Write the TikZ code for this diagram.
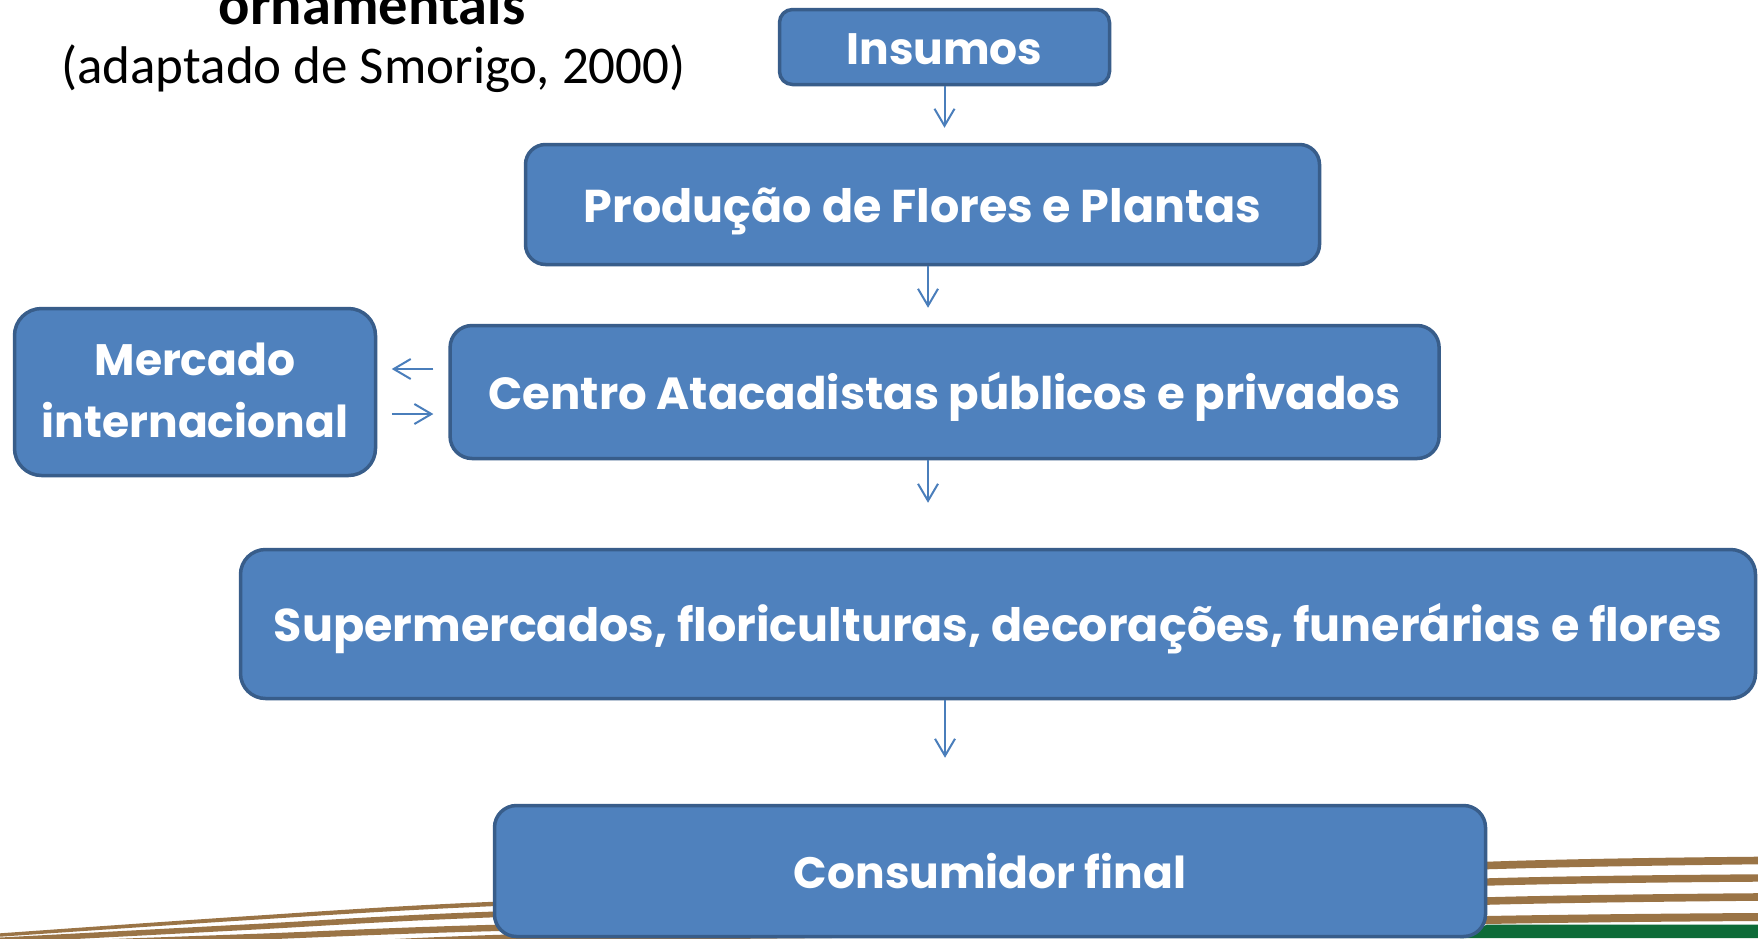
\documentclass[tikz,border=0pt]{standalone}
\usepackage{fontspec}
\setmainfont{Carlito}
\newfontfamily\boxfont{Poppins}
\usetikzlibrary{arrows.meta}
\definecolor{boxfill}{HTML}{4F81BD}
\definecolor{boxline}{HTML}{385D8A}
\definecolor{arrowc}{HTML}{4A7EBB}
\definecolor{stripe}{HTML}{9A7446}
\definecolor{band}{HTML}{0D6B38}
\begin{document}
\begin{tikzpicture}[x=1pt,y=-1pt,
  flowbox/.style={draw=boxline, fill=boxfill, line width=3.5pt, text=white,
    font=\boxfont\bfseries\fontsize{46}{62}\selectfont,
    text height=35pt, text depth=0pt, inner sep=0pt, align=center},
  smalltext/.style={font=\boxfont\bfseries\fontsize{44}{62}\selectfont},
  flowarrow/.style={draw=arrowc, line width=2pt, -{Straight Barb[length=17pt,width=20pt]}},
  stripefill/.style={fill=stripe, draw=none}
]
\useasboundingbox (0,0) rectangle (1758,938);
\clip (0,0) rectangle (1758,938);
\fill[white] (0,0) rectangle (1758,938);

% decorative stripes
\fill[band] (1460,938) -- (1487,924.5) -- (1758,924.5) -- (1758,938) -- cycle;
\fill[stripefill] plot[smooth] coordinates {(0,933.3) (250,916) (492,901.8) (990,884) (1487,861.7) (1758,856.7)}
  -- plot[smooth] coordinates {(1758,864.3) (1487,869.3) (990,888) (492,906.2) (250,920) (0,936.7)} -- cycle;
\fill[stripefill] plot[smooth] coordinates {(0,937.5) (250,924.2) (492,911.6) (990,897) (1487,878.3) (1758,874.3)}
  -- plot[smooth] coordinates {(1758,881.7) (1487,885.7) (990,904) (492,917.4) (250,929.8) (0,943)} -- cycle;
\fill[stripefill] plot[smooth] coordinates {(0,943) (250,934) (492,924.8) (990,914) (1487,897.2) (1758,893.2)}
  -- plot[smooth] coordinates {(1758,900.8) (1487,904.8) (990,921) (492,931.2) (250,940) (0,950)} -- cycle;
\fill[stripefill] plot[smooth] coordinates {(0,960) (492,935) (990,928) (1487,916) (1758,913)}
  -- plot[smooth] coordinates {(1758,921) (1487,924) (990,936) (492,943) (0,968)} -- cycle;

% title
\node[font=\bfseries\fontsize{58.5}{60}\selectfont, anchor=base, inner sep=0pt] (title) at (372,24) {ornamentais};
\node[font=\fontsize{53}{60}\selectfont, anchor=base, inner sep=0pt] (source) at (373.5,83) {(adaptado de Smorigo, 2000)};

% boxes
\node[flowbox, smalltext, minimum width=330pt, minimum height=75pt, rounded corners=13pt] (ins) at (944.5,47) {Insumos};
\node[flowbox, minimum width=794pt, minimum height=120pt, rounded corners=20pt] (prod) at (922.5,204.5) {Produção de Flores e Plantas};
\node[flowbox, font=\boxfont\bfseries\fontsize{45}{62}\selectfont, minimum width=989pt, minimum height=133pt, rounded corners=22pt] (cen) at (944.6,392) {Centro Atacadistas públicos e privados};
\node[flowbox, smalltext, minimum width=361pt, minimum height=167pt, rounded corners=27pt, text height=97pt, text depth=7pt] (merc) at (195,392) {Mercado\\internacional};
\node[flowbox, minimum width=1515pt, minimum height=149pt, rounded corners=25pt] (sup) at (998,624) {Supermercados, floriculturas, decorações, funerárias e flores};
\node[flowbox, smalltext, minimum width=991pt, minimum height=131pt, rounded corners=22pt] (cons) at (990,871) {Consumidor final};

% connectors
\draw[flowarrow, shorten >=15pt] (ins.south) -- (ins.south |- prod.north);
\draw[flowarrow, shorten >=16pt] ([xshift=5.5pt]prod.south) -- ([xshift=5.5pt]prod.south |- cen.north);
\draw[flowarrow, shorten >=45pt] ([xshift=-16.6pt]cen.south) -- ([xshift=-16.6pt]cen.south |- sup.north);
\draw[flowarrow, shorten >=46pt] ([xshift=-53pt]sup.south) -- ([xshift=-53pt]sup.south |- cons.north);
\draw[flowarrow, shorten <=15pt, shorten >=14.5pt] ([yshift=23pt]cen.west) -- ([yshift=23pt]merc.east);
\draw[flowarrow, shorten <=14.5pt, shorten >=15pt] ([yshift=-22pt]merc.east) -- ([yshift=-22pt]cen.west);
\end{tikzpicture}
\end{document}
